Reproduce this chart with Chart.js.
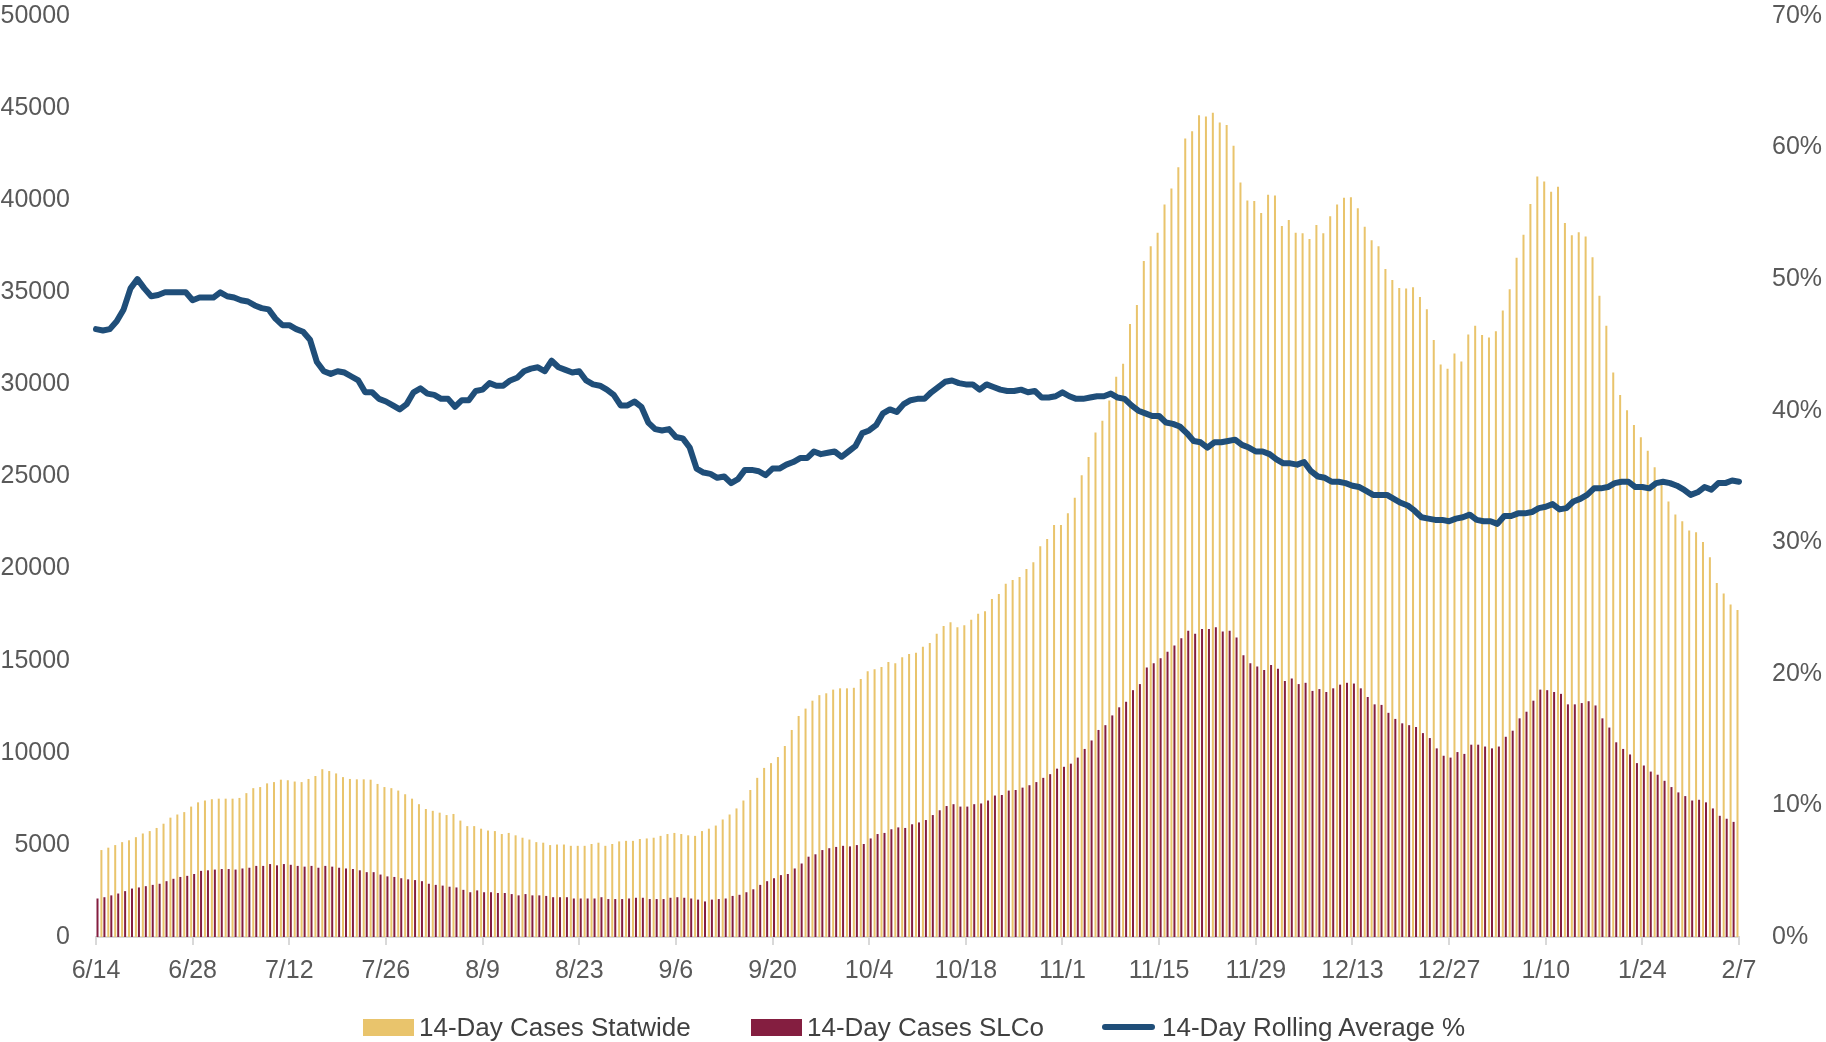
<!DOCTYPE html>
<html>
<head>
<meta charset="utf-8">
<title>14-Day Cases</title>
<script src="https://cdn.jsdelivr.net/npm/chart.js@4/dist/chart.umd.min.js"></script>
<style>
  body { margin: 0; background: #fff; }
  #wrap { position: relative; width: 1826px; height: 1042px; overflow: hidden; }
  .item {
    position: absolute; top: 1012px; height: 30px; line-height: 30px;
    display: flex; align-items: center;
    font: 26px "Liberation Sans", Arial, sans-serif; color: #404040; white-space: nowrap;
  }
  .box { display: inline-block; width: 51px; height: 17px; margin-right: 5px; }
  .ln { display: inline-block; width: 53px; height: 6px; border-radius: 3px; margin-right: 7px; }
</style>
</head>
<body>
<div id="wrap">
  <canvas id="myChart" width="1826" height="1042"></canvas>
  <div class="item" style="left:363px"><span class="box" style="background:#E9C46C"></span>14-Day Cases Statwide</div>
  <div class="item" style="left:751px"><span class="box" style="background:#841E40"></span>14-Day Cases SLCo</div>
  <div class="item" style="left:1102px"><span class="ln" style="background:#1F4E79"></span>14-Day Rolling Average %</div>
</div>
<script>
// daily values 6/14 -> 2/7, one per day
const startDate = new Date(2020, 5, 14);
const tickEvery = 14;
const tickLabels = ["6/14", "6/28", "7/12", "7/26", "8/9", "8/23", "9/6", "9/20", "10/4",
  "10/18", "11/1", "11/15", "11/29", "12/13", "12/27", "1/10", "1/24", "2/7"];

const casesStatewide = [
  4590, 4720, 4850, 4990, 5150, 5250, 5420, 5620, 5750, 5920,
  6150, 6480, 6650, 6780, 7080, 7310, 7410, 7480, 7510, 7510,
  7510, 7550, 7810, 8080, 8140, 8340, 8410, 8540, 8510, 8440,
  8410, 8580, 8740, 9110, 9010, 8880, 8680, 8580, 8560, 8560,
  8540, 8310, 8140, 8080, 7950, 7750, 7510, 7210, 6950, 6850,
  6750, 6620, 6680, 6320, 6020, 6020, 5880, 5780, 5750, 5590,
  5650, 5520, 5390, 5290, 5150, 5120, 4990, 5020, 5020, 4950,
  4950, 4950, 5050, 5120, 4950, 5050, 5190, 5220, 5220, 5320,
  5350, 5390, 5490, 5590, 5650, 5590, 5520, 5490, 5750, 5880,
  6050, 6380, 6650, 6980, 7410, 7980, 8640, 9180, 9440, 9770,
  10370, 11240, 12000, 12400, 12830, 13130, 13230, 13430, 13500, 13500,
  13530, 14000, 14430, 14530, 14660, 14930, 14860, 15190, 15360, 15430,
  15760, 15960, 16460, 16890, 17090, 16820, 16920, 17220, 17550, 17690,
  18350, 18620, 19180, 19380, 19550, 19980, 20350, 21210, 21610, 22370,
  22370, 23000, 23840, 25070, 26060, 27390, 28030, 29120, 30420, 31120,
  33280, 34310, 36700, 37500, 38230, 39760, 40630, 41790, 43350, 43750,
  44610, 44550, 44750, 44220, 44080, 42950, 40960, 39990, 39960, 39300,
  40290, 40260, 38600, 38930, 38230, 38200, 37900, 38660, 38200, 39130,
  39760, 40130, 40160, 39560, 38560, 37830, 37500, 36270, 35670, 35240,
  35210, 35270, 34740, 34080, 32410, 31080, 30850, 31680, 31250, 32710,
  33180, 32680, 32550, 32880, 34010, 35170, 36870, 38130, 39790, 41290,
  41020, 40460, 40730, 38760, 38100, 38260, 38030, 36900, 34810, 33180,
  30650, 29420, 28590, 27790, 27130, 26400, 25500, 24600, 23640, 22940,
  22570, 22070, 21970, 21440, 20610, 19220, 18650, 18050, 17750
];

const casesSLCo = [
  2090, 2160, 2260, 2360, 2490, 2630, 2690, 2760, 2830, 2890,
  3030, 3160, 3260, 3320, 3420, 3590, 3620, 3660, 3690, 3690,
  3660, 3720, 3760, 3860, 3860, 3960, 3890, 3960, 3920, 3860,
  3820, 3860, 3760, 3860, 3820, 3760, 3720, 3690, 3620, 3520,
  3520, 3390, 3290, 3260, 3190, 3130, 3090, 3030, 2890, 2830,
  2790, 2730, 2690, 2560, 2430, 2530, 2430, 2430, 2390, 2390,
  2330, 2260, 2330, 2260, 2260, 2230, 2160, 2160, 2160, 2090,
  2090, 2090, 2090, 2160, 2060, 2060, 2060, 2090, 2130, 2130,
  2060, 2060, 2060, 2130, 2160, 2130, 2090, 2030, 1930, 2030,
  2060, 2090, 2230, 2290, 2430, 2590, 2830, 3030, 3190, 3360,
  3420, 3720, 3990, 4360, 4490, 4720, 4820, 4890, 4950, 4920,
  4990, 5050, 5350, 5590, 5650, 5850, 5950, 5920, 6120, 6220,
  6350, 6620, 6880, 7110, 7210, 7080, 7080, 7210, 7250, 7410,
  7680, 7710, 7950, 7980, 8110, 8240, 8410, 8640, 8840, 9140,
  9240, 9410, 9740, 10210, 10670, 11240, 11500, 12030, 12470, 12770,
  13400, 13730, 14630, 14860, 15130, 15490, 15820, 16220, 16620, 16460,
  16720, 16720, 16820, 16590, 16620, 16260, 15290, 14860, 14690, 14490,
  14760, 14560, 13900, 14030, 13730, 13800, 13360, 13460, 13300, 13500,
  13700, 13800, 13760, 13500, 13030, 12630, 12600, 12170, 11840, 11600,
  11500, 11400, 11070, 10800, 10240, 9840, 9740, 10040, 9940, 10440,
  10440, 10340, 10240, 10340, 10870, 11200, 11870, 12230, 12830, 13430,
  13400, 13300, 13200, 12630, 12630, 12700, 12800, 12570, 11870, 11370,
  10570, 10210, 9910, 9440, 9310, 8980, 8810, 8480, 8140, 7850,
  7650, 7410, 7450, 7310, 6980, 6580, 6420, 6250, 6120
];

const rollingAvgPct = [
  46.2, 46.1, 46.2, 46.8, 47.7, 49.3, 50.0, 49.3, 48.7, 48.8,
  49.0, 49.0, 49.0, 49.0, 48.4, 48.6, 48.6, 48.6, 49.0, 48.7,
  48.6, 48.4, 48.3, 48.0, 47.8, 47.7, 47.0, 46.5, 46.5, 46.2,
  46.0, 45.4, 43.7, 43.0, 42.8, 43.0, 42.9, 42.6, 42.3, 41.4,
  41.4, 40.9, 40.7, 40.4, 40.1, 40.5, 41.4, 41.7, 41.3, 41.2,
  40.9, 40.9, 40.3, 40.8, 40.8, 41.5, 41.6, 42.1, 41.9, 41.9,
  42.3, 42.5, 43.0, 43.2, 43.3, 43.0, 43.8, 43.3, 43.1, 42.9,
  43.0, 42.3, 42.0, 41.9, 41.6, 41.2, 40.4, 40.4, 40.7, 40.3,
  39.1, 38.6, 38.5, 38.6, 38.0, 37.9, 37.2, 35.6, 35.3, 35.2,
  34.9, 35.0, 34.5, 34.8, 35.5, 35.5, 35.4, 35.1, 35.6, 35.6,
  35.9, 36.1, 36.4, 36.4, 36.9, 36.7, 36.8, 36.9, 36.5, 36.9,
  37.3, 38.3, 38.5, 38.9, 39.8, 40.1, 39.9, 40.5, 40.8, 40.9,
  40.9, 41.4, 41.8, 42.2, 42.3, 42.1, 42.0, 42.0, 41.6, 42.0,
  41.8, 41.6, 41.5, 41.5, 41.6, 41.4, 41.5, 41.0, 41.0, 41.1,
  41.4, 41.1, 40.9, 40.9, 41.0, 41.1, 41.1, 41.3, 41.0, 40.9,
  40.4, 40.0, 39.8, 39.6, 39.6, 39.1, 39.0, 38.8, 38.3, 37.7,
  37.6, 37.2, 37.6, 37.6, 37.7, 37.8, 37.4, 37.2, 36.9, 36.9,
  36.7, 36.3, 36.0, 36.0, 35.9, 36.1, 35.4, 35.0, 34.9, 34.6,
  34.6, 34.5, 34.3, 34.2, 33.9, 33.6, 33.6, 33.6, 33.3, 33.0,
  32.8, 32.4, 31.9, 31.8, 31.7, 31.7, 31.6, 31.8, 31.9, 32.1,
  31.7, 31.6, 31.6, 31.4, 32.0, 32.0, 32.2, 32.2, 32.3, 32.6,
  32.7, 32.9, 32.5, 32.6, 33.1, 33.3, 33.6, 34.1, 34.1, 34.2,
  34.5, 34.6, 34.6, 34.2, 34.2, 34.1, 34.5, 34.6, 34.5, 34.3,
  34.0, 33.6, 33.8, 34.2, 34.0, 34.5, 34.5, 34.7, 34.6
];

const labels = casesStatewide.map((v, i) => {
  const d = new Date(startDate);
  d.setDate(d.getDate() + i);
  return (d.getMonth() + 1) + "/" + d.getDate();
});

const tickFont = { family: "'Liberation Sans', Arial, sans-serif", size: 25 };
const tickColor = "#595959";

// fixed axis sizes so the plot area sits where the original one does
function fixSize(size) {
  return (scale) => {
    if (scale.isHorizontal()) {
      scale.height = size;
      scale.paddingLeft = 0;
      scale.paddingRight = 0;
    } else {
      scale.width = size;
      scale.paddingTop = 16;
      scale.paddingBottom = 0;
    }
  };
}

const ctx = document.getElementById("myChart");

new Chart(ctx, {
  type: "bar",
  data: {
    labels: labels,
    datasets: [
      {
        type: "line",
        label: "14-Day Rolling Average %",
        data: rollingAvgPct,
        yAxisID: "y1",
        borderColor: "#1F4E79",
        borderWidth: 6,
        pointRadius: 0,
        tension: 0,
        borderJoinStyle: "round",
        borderCapStyle: "round",
      },
      {
        label: "14-Day Cases Statwide",
        data: casesStatewide,
        backgroundColor: "#E9C46C",
        categoryPercentage: 0.87,
        barPercentage: 0.67,
      },
      {
        label: "14-Day Cases SLCo",
        data: casesSLCo,
        backgroundColor: "#841E40",
        categoryPercentage: 0.87,
        barPercentage: 0.67,
      },
    ],
  },
  options: {
    responsive: false,
    animation: false,
    layout: { padding: 0 },
    plugins: {
      legend: { display: false },
      tooltip: { enabled: false },
    },
    scales: {
      x: {
        offset: false,
        afterFit: fixSize(105),
        grid: {
          offset: false,
          drawOnChartArea: false,
          drawTicks: true,
          tickLength: 8,
          color: "#d9d9d9",
          lineWidth: 2,
        },
        border: { display: true, color: "#d9d9d9", width: 2 },
        ticks: {
          autoSkip: false,
          maxRotation: 0,
          padding: 11,
          font: tickFont,
          color: tickColor,
          callback: (value, index) =>
            index % tickEvery === 0 ? tickLabels[index / tickEvery] : null,
        },
      },
      y: {
        position: "left",
        min: 0,
        max: 50000,
        afterFit: fixSize(96),
        grid: { display: false, drawTicks: false },
        border: { display: false },
        ticks: {
          stepSize: 5000,
          padding: 26,
          font: tickFont,
          color: tickColor,
          callback: (v) => String(v),
        },
      },
      y1: {
        position: "right",
        min: 0,
        max: 70,
        afterFit: fixSize(87),
        grid: { display: false, drawTicks: false },
        border: { display: false },
        ticks: {
          stepSize: 10,
          padding: 33,
          font: tickFont,
          color: tickColor,
          callback: (v) => v + "%",
        },
      },
    },
  },
});
</script>
</body>
</html>
